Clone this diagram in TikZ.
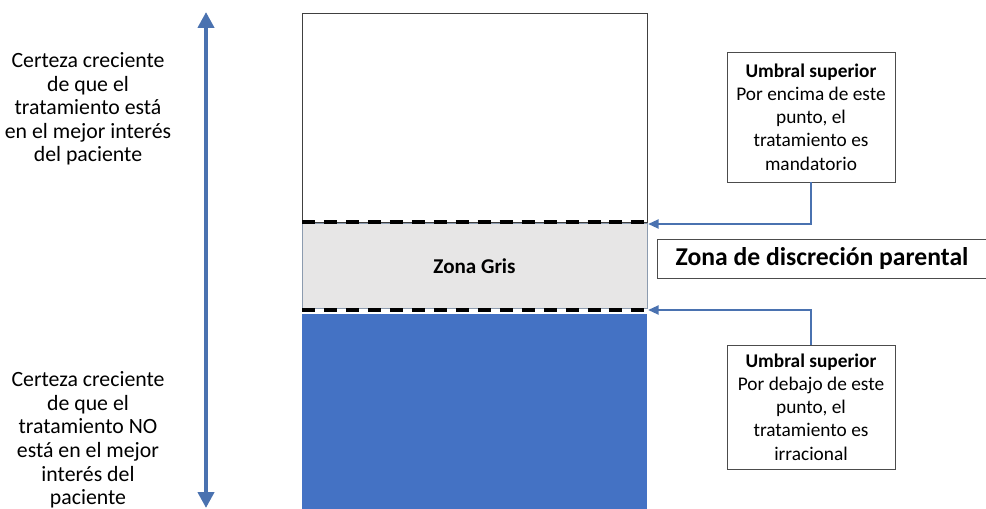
\documentclass[tikz,border=0pt]{standalone}
\usepackage{fontspec}
\setmainfont{Carlito}
\usepackage{xcolor}
\usetikzlibrary{arrows.meta, positioning}

\definecolor{zoneblue}{RGB}{68,114,196}
\definecolor{lineblue}{RGB}{74,114,176}
\definecolor{zonegray}{RGB}{231,230,230}
\definecolor{edgegray}{RGB}{140,155,175}

\begin{document}
\begin{tikzpicture}[x=0.02cm, y=-0.02cm]
    \tikzstyle{zone} = [rectangle, minimum width=6.9cm, inner sep=0pt, font=\fontsize{12}{14}\selectfont\bfseries]
    \tikzstyle{callout} = [rectangle, draw=black!70, fill=white, minimum width=3.36cm, align=center, font=\fontsize{11}{13.2}\selectfont]
    \tikzstyle{sidetext} = [align=center, font=\fontsize{12.4}{13.4}\selectfont]
    \tikzstyle{threshold} = [line width=2pt, dash pattern=on 7.4pt off 5.1pt]
    \tikzstyle{link} = [draw=lineblue, line width=1.4pt, -{Triangle[length=6pt, width=5pt]}]

    \useasboundingbox (0,0) rectangle (986,509);

    % the three zones
    \node (safe) [zone, draw=black!75, fill=white, minimum height=4.18cm] at (474.5,117.5) {};
    \node (grey) [zone, draw=edgegray, fill=zonegray, minimum height=1.7cm] at (474.5,266) {Zona Gris};
    \node (harm) [zone, fill=zoneblue, minimum height=3.9cm] at (474.5,411.5) {};

    \draw[threshold, white] (302,222) -- (647,222);
    \draw[threshold] (302,222) -- (647,222);
    \draw[threshold, white] (302,310) -- (647,310);
    \draw[threshold] (302,310) -- (647,310);

    % certainty axis
    \coordinate (axtop) at (206,12);
    \coordinate (axbot) at (206,508);
    \draw[lineblue, line width=2.4pt, {Triangle[length=9pt, width=9pt]}-{Triangle[length=9pt, width=9pt]}] (axtop) -- (axbot);

    \node (best) [sidetext] at (88,109) {Certeza creciente\\de que el\\tratamiento est\'a\\en el mejor inter\'es\\del paciente};
    \node (notbest) [sidetext] at (88,440) {Certeza creciente\\de que el\\tratamiento NO\\est\'a en el mejor\\inter\'es del\\paciente};

    % thresholds
    \node (upper) [callout, minimum height=2.6cm] at (811,117) {\textbf{Umbral superior}\\Por encima de este\\punto, el\\tratamiento es\\mandatorio};
    \node (lower) [callout, minimum height=2.48cm] at (811,407) {\textbf{Umbral superior}\\Por debajo de este\\punto, el\\tratamiento es\\irracional};
    \node (parental) [rectangle, draw=black!70, minimum width=6.58cm, minimum height=0.78cm, font=\fontsize{14.6}{17}\selectfont\bfseries] at (822,258.5) {Zona de discreci\'on parental};

    \coordinate (hiend) at (648,224);
    \coordinate (loend) at (648,310);
    \draw[link] (upper.south) |- (hiend);
    \draw[link] (lower.north) |- (loend);
\end{tikzpicture}
\end{document}
